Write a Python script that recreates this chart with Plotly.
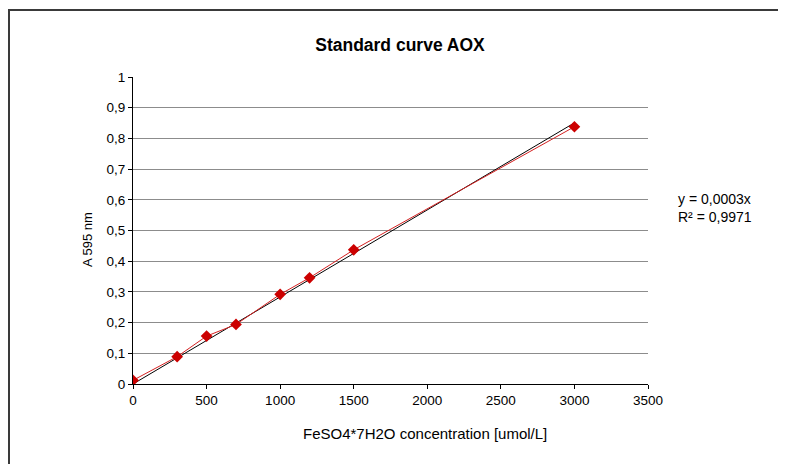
import numpy as np
import plotly.graph_objects as go

# Data
conc = [0, 300, 500, 700, 1000, 1200, 1500, 3000]
absorb = [0.012, 0.089, 0.156, 0.194, 0.292, 0.346, 0.437, 0.838]
y_tickvals = [0, 0.1, 0.2, 0.3, 0.4, 0.5, 0.6, 0.7, 0.8, 0.9, 1]
y_ticktext = ["0", "0,1", "0,2", "0,3", "0,4", "0,5", "0,6", "0,7", "0,8", "0,9", "1"]
x_tickvals = [0, 500, 1000, 1500, 2000, 2500, 3000, 3500]
eq_text = "y = 0,0003x"
r2_text = "R² = 0,9971"

# Linear trendline through origin (least squares)
xa = np.array(conc, dtype=float)
ya = np.array(absorb, dtype=float)
slope = float((xa * ya).sum() / (xa * xa).sum())
trend_x = [0, max(conc)]
trend_y = [slope * v for v in trend_x]

OFF = 8  # default page body margin
W, H = 786 - OFF, 464 - OFF
# page-pixel targets of the plot area
PL, PR, PT, PB = 133, 648, 77, 384
L, T = PL - OFF, PT - OFF
R, B = W - (PR - OFF), H - (PB - OFF)
pw, ph = PR - PL, PB - PT

def px(x):
    return (x - PL) / pw

def py(y):
    return (PB - y) / ph

FONT = "Liberation Sans, Arial, sans-serif"

fig = go.Figure()
fig.add_trace(go.Scatter(x=trend_x, y=trend_y, mode="lines",
                         line=dict(color="black", width=1), showlegend=False,
                         hoverinfo="skip"))
fig.add_trace(go.Scatter(x=conc, y=absorb, mode="lines+markers",
                         line=dict(color="#d42020", width=1),
                         marker=dict(symbol="diamond", size=9, color="#cc0000"),
                         showlegend=False))

fig.update_layout(
    width=W, height=H,
    margin=dict(l=L, r=R, t=T, b=B, autoexpand=False),
    paper_bgcolor="white", plot_bgcolor="white",
    font=dict(family=FONT, size=13, color="black"),
    title=dict(text="<b>Standard curve AOX</b>", x=(400 - OFF) / W, xanchor="center",
               y=1 - (45 - OFF) / H, yanchor="middle", yref="container",
               font=dict(family=FONT, size=17.5, color="black")),
    xaxis=dict(range=[0, 3500], tickvals=x_tickvals, showgrid=False,
               showline=True, linecolor="black", linewidth=1,
               ticks="outside", ticklen=4, tickcolor="black",
               tickfont=dict(size=13.5), zeroline=False),
    yaxis=dict(range=[0, 1], tickvals=y_tickvals, ticktext=y_ticktext,
               showgrid=True, gridcolor="#8c8c8c", gridwidth=1,
               showline=True, linecolor="black", linewidth=1,
               ticks="outside", ticklen=4, tickcolor="black",
               tickfont=dict(size=13.5), zeroline=False),
    shapes=[dict(type="rect", xref="paper", yref="paper",
                 x0=px(9), y0=py(700), x1=px(1000), y1=py(10),
                 line=dict(color="#3a3a3a", width=2), fillcolor="rgba(0,0,0,0)",
                 layer="below")],
    annotations=[
        dict(text="FeSO4*7H2O concentration [umol/L]", xref="paper", yref="paper",
             x=px(425), y=py(433), xanchor="center", yanchor="middle",
             showarrow=False, font=dict(size=15)),
        dict(text="A 595 nm", xref="paper", yref="paper", textangle=-90,
             x=px(87), y=py(240), xanchor="center", yanchor="middle",
             showarrow=False, font=dict(size=13)),
        dict(text=eq_text + "<br>" + r2_text, xref="paper", yref="paper",
             x=px(676), y=py(208), xanchor="left", yanchor="middle", align="left",
             showarrow=False, font=dict(size=14)),
    ],
)

fig.write_html("out.html")
